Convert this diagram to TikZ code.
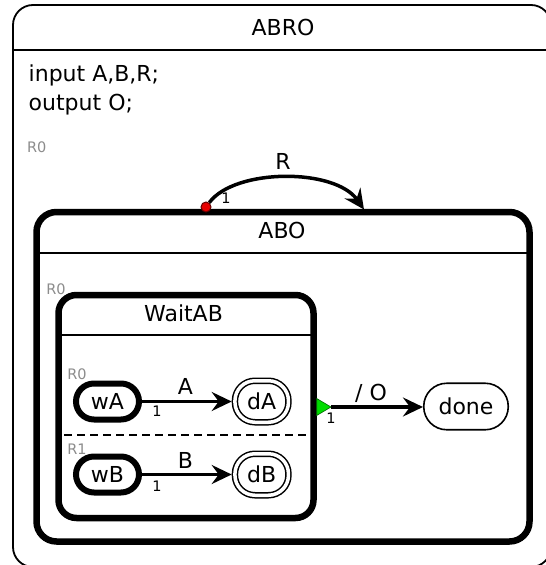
\documentclass[tikz,border=0pt]{standalone}
\usepackage{fontspec}
\setmainfont{DejaVu Sans}
\usetikzlibrary{arrows.meta}
\definecolor{trigreen}{RGB}{0,220,0}
\definecolor{dotred}{RGB}{230,0,0}
\begin{document}
\begin{tikzpicture}[x=1pt,y=-1pt,
  big/.style={font=\fontsize{22}{26}\selectfont},
  lab/.style={font=\fontsize{22}{26}\selectfont},
  small/.style={font=\fontsize{14.5}{17}\selectfont},
  region/.style={small, text=black!45},
  prio/.style={small},
  container/.style={draw, line width=6.5pt, rounded corners=20pt, inner sep=0pt, outer sep=0pt},
  simple/.style={draw, line width=6pt, rounded corners=18pt, minimum width=63pt, minimum height=36pt, inner sep=0pt, big},
  final/.style={draw, line width=1.5pt, double, double distance=3.5pt, rounded corners=20pt, minimum width=53.5pt, minimum height=41.5pt, inner sep=0pt, outer sep=3.25pt, big},
  plainstate/.style={draw, line width=1.6pt, rounded corners=23pt, minimum width=84.5pt, minimum height=46.5pt, inner sep=0pt, big},
  trans/.style={line width=3.5pt, -{Stealth[length=20pt, width=19pt, inset=7pt]}},
  divider/.style={line width=1.5pt},
  sep/.style={line width=2pt, dash pattern=on 8pt off 5pt}
]
\useasboundingbox (0,0) rectangle (546,565);
\clip (0,0) rectangle (546,565);
\fill[white] (0,0) rectangle (546,565);

% outer ABRO
\node[draw, line width=1.8pt, rounded corners=20pt, minimum width=538pt, minimum height=562pt, inner sep=0pt, outer sep=0pt] (abro) at (282,286) {};
\draw[divider] ([yshift=-45pt]abro.north west) -- ([yshift=-45pt]abro.north east);
\node[big] (abrot) at (283,27.5) {ABRO};
\node[big, anchor=base west, inner sep=0pt] (decl1) at (28.5,81.7) {input A,B,R;};
\node[big, anchor=base west, inner sep=0pt] (decl2) at (28.5,110) {output O;};
\node[region] (r0a) at (36.7,147.5) {R0};

% ABO
\node[container, minimum width=493pt, minimum height=329.5pt] (abo) at (283,376.75) {};
\draw[divider] ([yshift=-41pt]abo.north west) -- ([yshift=-41pt]abo.north east);
\node[big] (abot) at (282,230) {ABO};
\node[region] (r0b) at (56,289) {R0};

% WaitAB
\node[container, rounded corners=18pt, minimum width=255pt, minimum height=223pt] (waitab) at (186,406.5) {};
\draw[divider] ([yshift=-40pt]waitab.north west) -- ([yshift=-40pt]waitab.north east);
\node[big] (waitabt) at (183.5,313) {WaitAB};
\node[region] (r0c) at (77,374) {R0};
\node[region] (r1c) at (77,449) {R1};
\coordinate (sepl) at (64,435);
\coordinate (sepr) at (310,435);
\draw[sep] (sepl) -- (sepr);

% inner states
\node[simple] (wA) at (107.5,401.5) {wA};
\node[final] (dA) at (261.7,401.5) {dA};
\node[simple] (wB) at (107.5,474.5) {wB};
\node[final] (dB) at (261.7,474.5) {dB};
\draw[trans] (wA) -- (dA);
\draw[trans] (wB) -- (dB);
\node[lab] (lA) at (185.5,386) {A};
\node[prio] (pA) at (157,411.5) {1};
\node[lab] (lB) at (185.5,460) {B};
\node[prio] (pB) at (157,486.5) {1};

% done and termination transition
\node[plainstate] (done) at (466,406.5) {done};
\path[fill=trigreen, draw=black!60!green, line width=0.6pt] (316.7,398.5) -- (331,407) -- (316.7,415.5) -- cycle;
\coordinate (tri) at (331,407);
\draw[trans] (tri) -- (tri -| done.west);
\node[lab] (lO) at (371,393) {/ O};
\node[prio] (pO) at (331,418) {1};

% reset transition
\node[circle, fill=dotred, draw=black!60!red, line width=1pt, minimum size=10pt, inner sep=0pt] (rdot) at (206,207) {};
\coordinate (rend) at (364,209.5);
\draw[trans] (rdot) .. controls (235,168) and (335,168) .. (rend);
\node[lab] (lR) at (283,161.5) {R};
\node[prio] (pR) at (226,198) {1};
\end{tikzpicture}
\end{document}
